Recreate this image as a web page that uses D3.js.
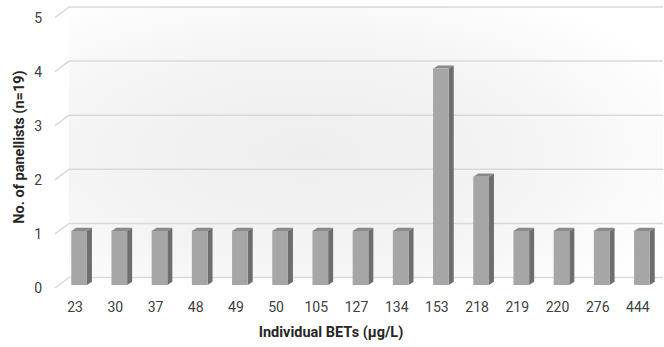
<!DOCTYPE html>
<html>
<head>
<meta charset="utf-8">
<script src="https://cdn.jsdelivr.net/npm/d3@7/dist/d3.min.js"></script>
<style>
  html, body { margin: 0; padding: 0; background: #ffffff; }
  svg { display: block; font-family: Roboto, "Noto Sans", Arial, sans-serif; }
</style>
</head>
<body>
<svg id="chart" width="664" height="347"></svg>
<script>
// Individual best-estimate thresholds and how many panellists had each
const categories = ["23", "30", "37", "48", "49", "50", "105", "127", "134", "153", "218", "219", "220", "276", "444"];
const panellists = [1, 1, 1, 1, 1, 1, 1, 1, 1, 4, 2, 1, 1, 1, 1];
const yTicks = [0, 1, 2, 3, 4, 5];
const xTitle = "Individual BETs (µg/L)";
const yTitle = "No. of panellists (n=19)";

const W = 664, H = 347;
const svg = d3.select("#chart");

// pseudo-3D geometry: front plane, back wall offset, bar offset and bar depth
const front = { left: 55, right: 658, bottom: 288, top: 17.5 };
const wallDx = 14, wallDy = -10.5;          // back wall relative to front plane
const barDx = 4, barDy = -3;                // bar front face relative to front plane
const depthDx = 5, depthDy = -3.2;          // bar thickness

const x = d3.scaleBand()
  .domain(categories)
  .range([front.left, front.right])
  .paddingInner(0.61)
  .paddingOuter(0.305);

const y = d3.scaleLinear()
  .domain([0, 5])
  .range([front.bottom, front.top]);

// back wall fill
const defs = svg.append("defs");
const grad = defs.append("radialGradient")
  .attr("id", "wallFill")
  .attr("cx", "40%").attr("cy", "55%").attr("r", "70%");
grad.append("stop").attr("offset", "0%").attr("stop-color", "#eeeeee");
grad.append("stop").attr("offset", "55%").attr("stop-color", "#f4f4f4");
grad.append("stop").attr("offset", "100%").attr("stop-color", "#ffffff");

const wallLeft = front.left + wallDx, wallRight = 663;
svg.append("rect")
  .attr("x", wallLeft)
  .attr("y", y(5) + wallDy)
  .attr("width", wallRight - wallLeft)
  .attr("height", y(0) - y(5))
  .attr("fill", "url(#wallFill)");

// gridlines: diagonal on the left side wall, then across the back wall
const grid = svg.append("g").attr("fill", "none")
  .attr("stroke", "#d9d9d9").attr("stroke-width", 1.5);
grid.selectAll("path")
  .data(yTicks)
  .join("path")
  .attr("d", d => {
    const yf = y(d);
    return `M${front.left},${yf}L${wallLeft},${yf + wallDy}L${wallRight},${yf + wallDy}`;
  });

// y tick labels
svg.append("g")
  .selectAll("text")
  .data(yTicks)
  .join("text")
  .attr("x", 42)
  .attr("y", d => y(d))
  .attr("dy", "0.36em")
  .attr("text-anchor", "end")
  .attr("font-size", 14)
  .attr("fill", "#404040")
  .text(d => d);

// bars
const data = categories.map((c, i) => ({ cat: c, value: panellists[i] }));
const bars = svg.append("g").selectAll("g")
  .data(data)
  .join("g");

const bw = x.bandwidth();
bars.each(function (d) {
  const g = d3.select(this);
  const x0 = x(d.cat) + barDx;
  const x1 = x0 + bw;
  const yb = y(0) + barDy;
  const yt = y(d.value) + barDy;
  // side face
  g.append("path")
    .attr("d", `M${x1},${yt}L${x1 + depthDx},${yt + depthDy}L${x1 + depthDx},${yb + depthDy}L${x1},${yb}Z`)
    .attr("fill", "#6e6e6e");
  // top face
  g.append("path")
    .attr("d", `M${x0},${yt}L${x0 + depthDx},${yt + depthDy}L${x1 + depthDx},${yt + depthDy}L${x1},${yt}Z`)
    .attr("fill", "#8a8a8a");
  // front face
  g.append("rect")
    .attr("x", x0).attr("y", yt)
    .attr("width", bw).attr("height", yb - yt)
    .attr("fill", "#a6a6a6");
});

// x tick labels
svg.append("g")
  .selectAll("text")
  .data(categories)
  .join("text")
  .attr("x", d => x(d) + bw / 2)
  .attr("y", 311.5)
  .attr("text-anchor", "middle")
  .attr("font-size", 14)
  .attr("fill", "#404040")
  .text(d => d);

// axis titles
svg.append("text")
  .attr("x", 331)
  .attr("y", 337)
  .attr("text-anchor", "middle")
  .attr("font-size", 14.5)
  .attr("font-weight", "bold")
  .attr("fill", "#262626")
  .text(xTitle);

svg.append("text")
  .attr("transform", "translate(23.5,147) rotate(-90)")
  .attr("text-anchor", "middle")
  .attr("font-size", 14.5)
  .attr("font-weight", "bold")
  .attr("fill", "#262626")
  .text(yTitle);
</script>
</body>
</html>
